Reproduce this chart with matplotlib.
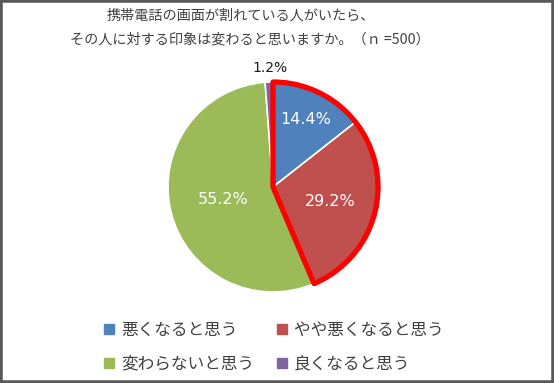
import matplotlib
matplotlib.use("Agg")
import matplotlib.pyplot as plt
import numpy as np
from matplotlib.patches import Wedge, Rectangle
from matplotlib.lines import Line2D

plt.rcParams["font.family"] = ["Noto Sans CJK JP", "DejaVu Sans"]

categories = ["悪くなると思う", "やや悪くなると思う", "変わらないと思う", "良くなると思う"]
values = [14.4, 29.2, 55.2, 1.2]
colors = ["#4F81BD", "#C0504D", "#9BBB59", "#8064A2"]
title_lines = ["携帯電話の画面が割れている人がいたら、",
               "その人に対する印象は変わると思いますか。（ｎ =500）"]

W, H = 554, 383
fig = plt.figure(figsize=(W / 100, H / 100), dpi=100)
fig.patch.set_facecolor("white")

# pie axes: center (273, 187) px, radius ~105 px
cx, cy, r = 273, H - 187, 105
half = 1.25 * r
ax = fig.add_axes([(cx - half) / W, (cy - half) / H, 2 * half / W, 2 * half / H])
wedges, _ = ax.pie(values, colors=colors, startangle=90, counterclock=False,
                   wedgeprops=dict(edgecolor="white", linewidth=1.2))
ax.set_xlim(-1.25, 1.25)
ax.set_ylim(-1.25, 1.25)
ax.set_aspect("equal")

# percent labels
dists = [0.72, 0.56, 0.49, 1.13]
for w, v, d, i in zip(wedges, values, dists, range(len(values))):
    ang = np.deg2rad((w.theta1 + w.theta2) / 2)
    x, y = d * np.cos(ang), d * np.sin(ang)
    if i == 3:
        x = -0.03
    ax.text(x, y, f"{v:.1f}%", ha="center", va="center",
            fontsize=11.5 if i < 3 else 10,
            color="white" if i < 3 else "#1a1a1a",
            family=["DejaVu Sans"])

# red outline around the "worse" slices
t1 = wedges[1].theta1
t2 = wedges[0].theta2
ax.add_patch(Wedge((0, 0), 1.0, t1, t2, facecolor="none", edgecolor="#FF0000",
                   linewidth=3.8, joinstyle="round"))

# title
fig.text(241 / W, 1 - 16 / H, title_lines[0], ha="center", va="center",
         fontsize=10.2, color="#404040")
fig.text(250 / W, 1 - 39 / H, title_lines[1], ha="center", va="center",
         fontsize=10.2, color="#404040")

# legend, row-wise order
order = [0, 2, 1, 3]
handles = [Line2D([], [], marker="s", linestyle="none", markersize=6.5,
                  markerfacecolor=colors[i], markeredgecolor=colors[i]) for i in order]
fig.legend(handles, [categories[i] for i in order], ncol=2, loc="upper left",
           bbox_to_anchor=(86 / W, 1 - 307 / H), frameon=False,
           fontsize=12, labelcolor="#404040", handletextpad=0.2,
           columnspacing=1.2, labelspacing=1.0, handlelength=1.0)

# outer frame
fig.patches.append(Rectangle((0, 0), 1, 1, transform=fig.transFigure,
                             fill=False, edgecolor="#595959", linewidth=4))

fig.savefig("out.png", dpi=100)
